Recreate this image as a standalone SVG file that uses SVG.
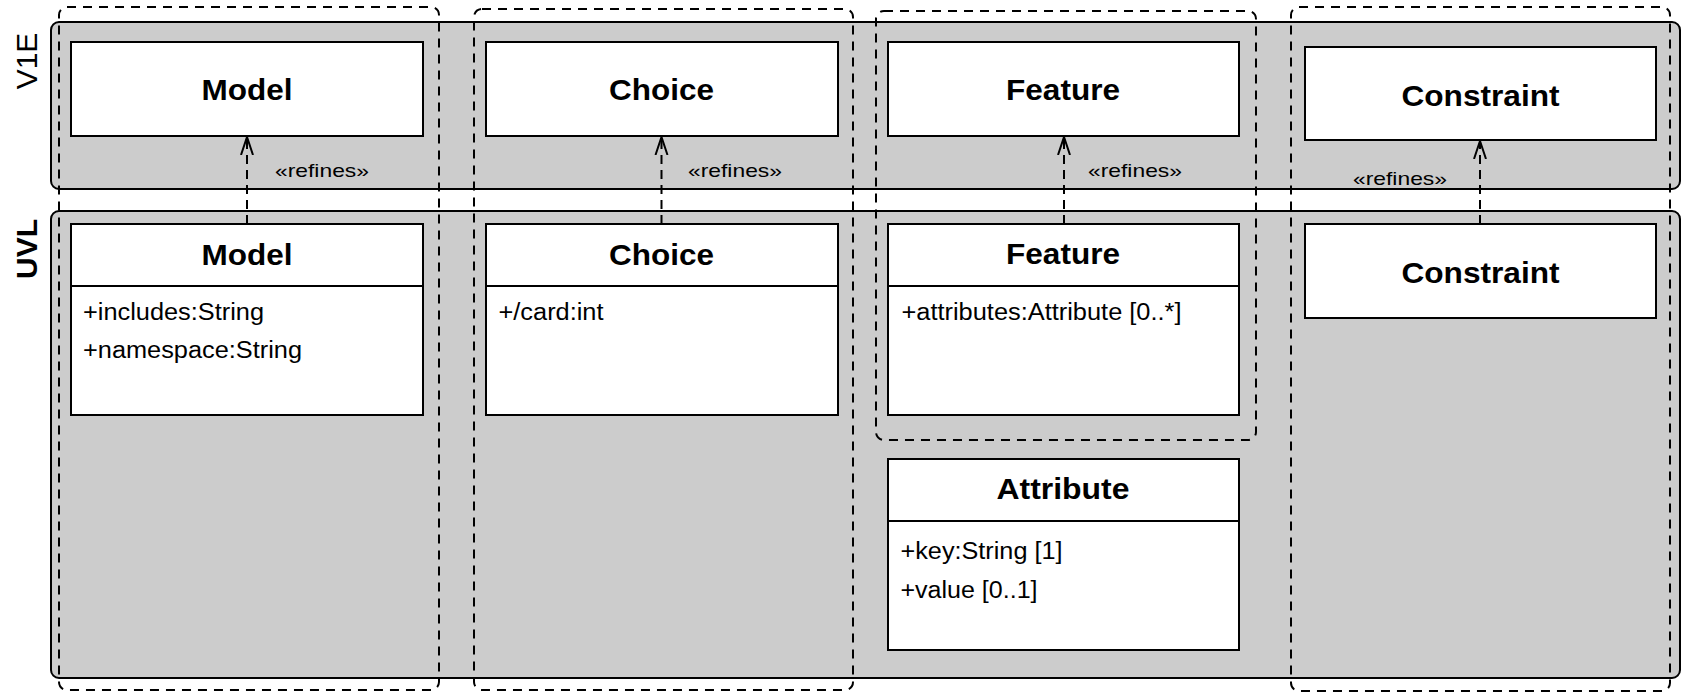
<svg xmlns="http://www.w3.org/2000/svg" width="1681" height="693" viewBox="0 0 1681 693">
<defs>
<style>
.band{fill:#cccccc;stroke:#000;stroke-width:2}
.col{fill:none;stroke:#000;stroke-width:2;stroke-dasharray:9 7}
.box{fill:#fff;stroke:#000;stroke-width:2}
.div{stroke:#000;stroke-width:2}
.title{font-family:"Liberation Sans",Arial,sans-serif;font-weight:bold;font-size:30px;text-anchor:middle;fill:#000}
.attr{font-family:"Liberation Sans",Arial,sans-serif;font-size:23px;fill:#000}
.lbl{font-family:"Liberation Sans",Arial,sans-serif;font-size:19px;fill:#000}
.lane{font-family:"Liberation Sans",Arial,sans-serif;font-size:30px;text-anchor:middle;fill:#000}
.conn{fill:none;stroke:#000;stroke-width:2;stroke-dasharray:9 6}
</style>
<marker id="open" markerUnits="userSpaceOnUse" markerWidth="20" markerHeight="20" viewBox="0 0 20 20" refX="18" refY="10" orient="auto">
<path d="M0,4 L18,10 L0,16" fill="none" stroke="#000" stroke-width="2" stroke-dasharray="none"/>
</marker>
</defs>

<g id="lane-v1e">
<rect class="band" x="51" y="22" width="1629" height="167" rx="8"/>
<text class="lane" transform="translate(37,61) rotate(-90)">V1E</text>
</g>
<g id="lane-uvl">
<rect class="band" x="51" y="211" width="1629" height="467" rx="8"/>
<text class="lane" font-weight="bold" transform="translate(37,249) rotate(-90)">UVL</text>
</g>

<g id="groups">
<rect id="col-model" class="col" x="59" y="7" width="380" height="683" rx="8"/>
<rect id="col-choice" class="col" x="474" y="9" width="379" height="681" rx="8"/>
<rect id="col-feature" class="col" x="876" y="11" width="380" height="429" rx="8"/>
<rect id="col-constraint" class="col" x="1291" y="7" width="379" height="684" rx="8"/>
</g>

<g id="v1e-model">
<rect class="box" x="71" y="42" width="352" height="94"/>
<text class="title" x="247" y="99.5" textLength="91" lengthAdjust="spacingAndGlyphs">Model</text>
</g>
<g id="v1e-choice">
<rect class="box" x="486" y="42" width="352" height="94"/>
<text class="title" x="661.5" y="100" textLength="105" lengthAdjust="spacingAndGlyphs">Choice</text>
</g>
<g id="v1e-feature">
<rect class="box" x="888" y="42" width="351" height="94"/>
<text class="title" x="1063" y="100" textLength="114" lengthAdjust="spacingAndGlyphs">Feature</text>
</g>
<g id="v1e-constraint">
<rect class="box" x="1305" y="47" width="351" height="93"/>
<text class="title" x="1480.5" y="106" textLength="158" lengthAdjust="spacingAndGlyphs">Constraint</text>
</g>

<g id="uvl-model">
<rect class="box" x="71" y="224" width="352" height="191"/>
<line class="div" x1="71" y1="286" x2="423" y2="286"/>
<text class="title" x="247" y="265" textLength="91" lengthAdjust="spacingAndGlyphs">Model</text>
<text class="attr" x="83" y="320" textLength="181" lengthAdjust="spacingAndGlyphs">+includes:String</text>
<text class="attr" x="83" y="357.5" textLength="219" lengthAdjust="spacingAndGlyphs">+namespace:String</text>
</g>
<g id="uvl-choice">
<rect class="box" x="486" y="224" width="352" height="191"/>
<line class="div" x1="486" y1="286" x2="838" y2="286"/>
<text class="title" x="661.5" y="265" textLength="105" lengthAdjust="spacingAndGlyphs">Choice</text>
<text class="attr" x="498.5" y="320" textLength="105" lengthAdjust="spacingAndGlyphs">+/card:int</text>
</g>
<g id="uvl-feature">
<rect class="box" x="888" y="224" width="351" height="191"/>
<line class="div" x1="888" y1="286" x2="1239" y2="286"/>
<text class="title" x="1063" y="264" textLength="114" lengthAdjust="spacingAndGlyphs">Feature</text>
<text class="attr" x="901.5" y="320" textLength="280" lengthAdjust="spacingAndGlyphs">+attributes:Attribute [0..*]</text>
</g>
<g id="uvl-attribute">
<rect class="box" x="888" y="459" width="351" height="191"/>
<line class="div" x1="888" y1="521" x2="1239" y2="521"/>
<text class="title" x="1063" y="498.5" textLength="133" lengthAdjust="spacingAndGlyphs">Attribute</text>
<text class="attr" x="900.5" y="559" textLength="162" lengthAdjust="spacingAndGlyphs">+key:String [1]</text>
<text class="attr" x="900.5" y="598" textLength="137" lengthAdjust="spacingAndGlyphs">+value [0..1]</text>
</g>
<g id="uvl-constraint">
<rect class="box" x="1305" y="224" width="351" height="94"/>
<text class="title" x="1480.5" y="283" textLength="158" lengthAdjust="spacingAndGlyphs">Constraint</text>
</g>

<g id="connectors">
<line class="conn" x1="247" y1="224" x2="247" y2="137" marker-end="url(#open)"/>
<text class="lbl" x="275" y="177" textLength="94" lengthAdjust="spacingAndGlyphs">«refines»</text>
<line class="conn" x1="661.5" y1="224" x2="661.5" y2="137" marker-end="url(#open)"/>
<text class="lbl" x="688" y="176.5" textLength="94" lengthAdjust="spacingAndGlyphs">«refines»</text>
<line class="conn" x1="1064" y1="224" x2="1064" y2="137" marker-end="url(#open)"/>
<text class="lbl" x="1088" y="176.5" textLength="94" lengthAdjust="spacingAndGlyphs">«refines»</text>
<line class="conn" x1="1480" y1="224" x2="1480" y2="141" marker-end="url(#open)"/>
<text class="lbl" x="1353" y="184.5" textLength="94" lengthAdjust="spacingAndGlyphs">«refines»</text>
</g>
</svg>
